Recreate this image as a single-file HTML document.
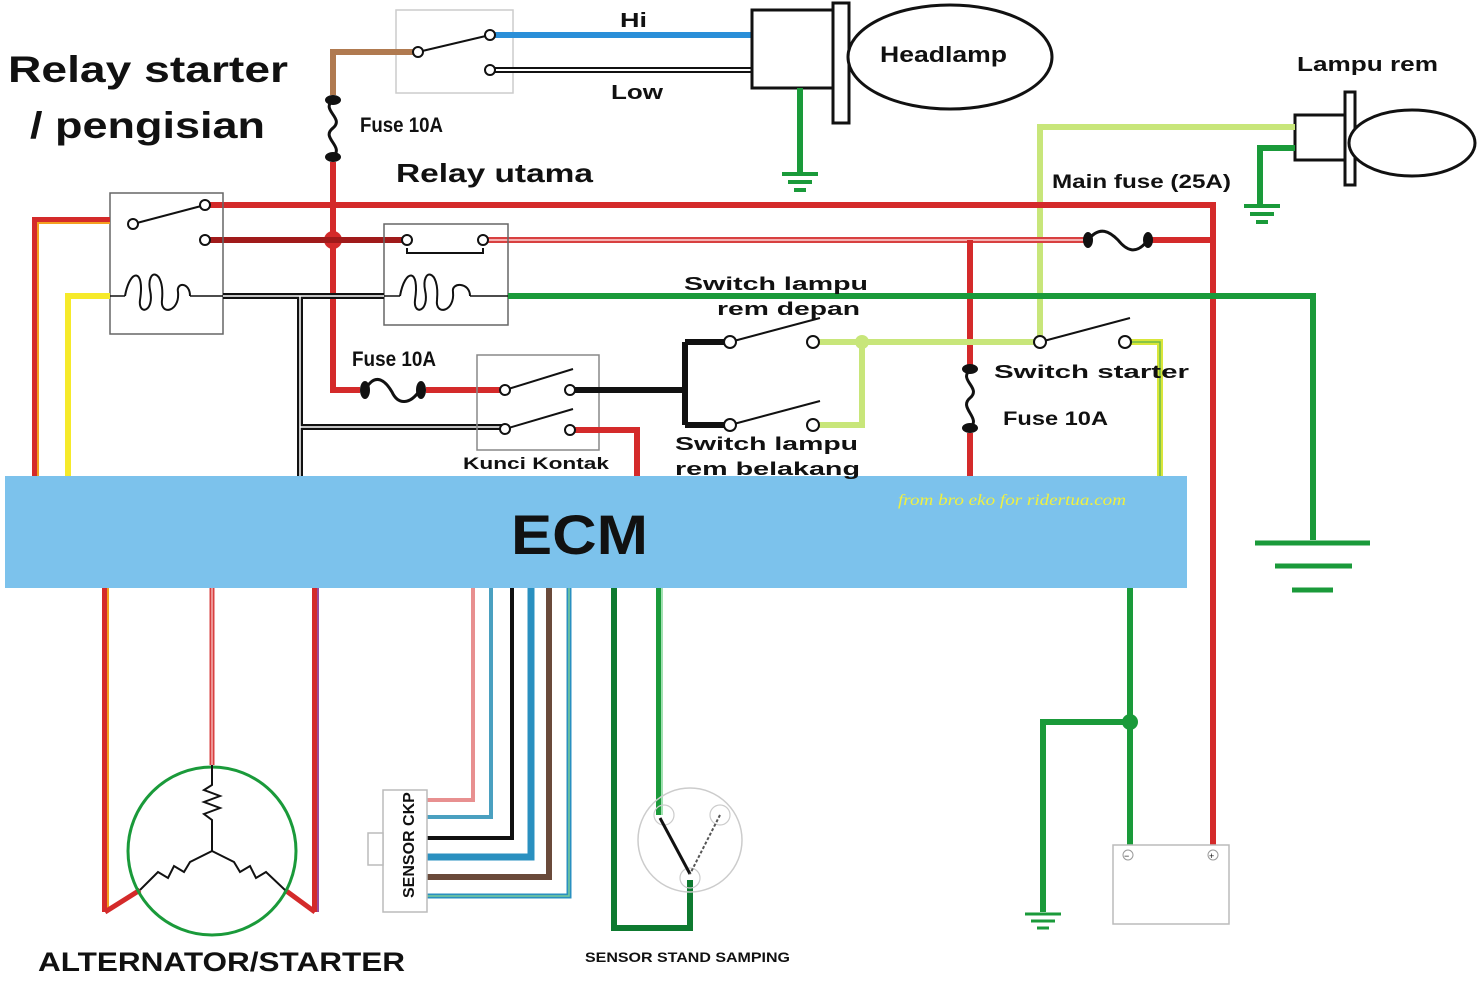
<!DOCTYPE html>
<html><head><meta charset="utf-8"><style>
html,body{margin:0;padding:0;background:#fff}
svg{display:block}
text{font-family:"Liberation Sans",sans-serif;font-weight:bold;fill:#111}
</style></head><body>
<svg width="1478" height="1006" viewBox="0 0 1478 1006" xmlns="http://www.w3.org/2000/svg">
<g fill="none" stroke-linecap="butt" stroke-linejoin="miter">
<rect x="396" y="10" width="117" height="83" stroke="#ccc" stroke-width="1.5"/>
<path d="M418 52 H333 V95" stroke="#b07a50" stroke-width="6"/>
<line x1="418" y1="52" x2="490" y2="35" stroke="#111" stroke-width="2"/>
<path d="M490 35 H752" stroke="#2a8fd8" stroke-width="6"/>
<path d="M490 70 H752" stroke="#111" stroke-width="6"/>
<path d="M490 70 H752" stroke="#fff" stroke-width="2"/>
<rect x="752" y="10" width="88" height="78" stroke="#111" stroke-width="3" fill="#fff"/>
<rect x="833" y="3" width="16" height="120" stroke="#111" stroke-width="3" fill="#fff"/>
<ellipse cx="950" cy="57" rx="102" ry="52" stroke="#111" stroke-width="3" fill="#fff"/>
<path d="M800 88 V172" stroke="#1a9a3a" stroke-width="6"/>
<path d="M782 174 H818 M788 182 H812 M794 190 H806" stroke="#1a9a3a" stroke-width="4"/>
<rect x="1295" y="115" width="55" height="45" stroke="#111" stroke-width="3" fill="#fff"/>
<rect x="1345" y="92" width="10" height="93" stroke="#111" stroke-width="3" fill="#fff"/>
<ellipse cx="1412" cy="143" rx="63" ry="33" stroke="#111" stroke-width="3" fill="#fff"/>
<path d="M1295 127 H1040 V342" stroke="#c8e67a" stroke-width="6"/>
<path d="M1295 148 H1260 V205" stroke="#1a9a3a" stroke-width="6"/>
<path d="M1244 206 H1280 M1250 214 H1274 M1256 222 H1268" stroke="#1a9a3a" stroke-width="4"/>
<path d="M333 100 C320 110 345 118 333 128 C320 138 345 146 333 157" stroke="#111" stroke-width="3"/>
<ellipse cx="333" cy="100" rx="8" ry="5" fill="#111"/>
<ellipse cx="333" cy="157" rx="8" ry="5" fill="#111"/>
<path d="M333 162 V390 H360" stroke="#d42a2a" stroke-width="6"/>
<circle cx="333" cy="240" r="9" fill="#d42a2a"/>
<path d="M205 205 H1213 V845" stroke="#d42a2a" stroke-width="6"/>
<path d="M205 240 H407" stroke="#a01a1a" stroke-width="6"/>
<path d="M483 240 H1085" stroke="#d84040" stroke-width="6"/>
<path d="M483 240 H1085" stroke="#f4b0b0" stroke-width="2"/>
<path d="M1150 240 H1213" stroke="#d42a2a" stroke-width="6"/>
<path d="M1088 240 C1100 225 1110 232 1118 240 C1126 250 1136 256 1148 240" stroke="#111" stroke-width="3"/>
<ellipse cx="1088" cy="240" rx="5" ry="8" fill="#111"/>
<ellipse cx="1148" cy="240" rx="5" ry="8" fill="#111"/>
<path d="M970 240 V365" stroke="#d42a2a" stroke-width="6"/>
<path d="M970 370 C958 380 982 388 970 398 C958 408 982 418 970 428" stroke="#111" stroke-width="3"/>
<ellipse cx="970" cy="369" rx="8" ry="5" fill="#111"/>
<ellipse cx="970" cy="428" rx="8" ry="5" fill="#111"/>
<path d="M970 433 V476" stroke="#d42a2a" stroke-width="6"/>
<rect x="110" y="193" width="113" height="141" stroke="#666" stroke-width="1.5" fill="none"/>
<path d="M35 476 V220 H110" stroke="#d42a2a" stroke-width="6"/>
<path d="M38 476 V223 H110" stroke="#f4a020" stroke-width="2"/>
<path d="M68 476 V296 H110" stroke="#f6ea2a" stroke-width="6"/>
<line x1="133" y1="224" x2="205" y2="205" stroke="#111" stroke-width="2"/>
<path d="M110 296 H125 M190 296 H223" stroke="#111" stroke-width="1.5"/>
<path d="M125 296 C130 268 145 268 140 300 C138 316 155 312 150 290 C146 268 165 268 162 300 C160 316 180 312 178 292 C176 282 190 282 190 296" stroke="#111" stroke-width="2"/>
<rect x="384" y="224" width="124" height="101" stroke="#666" stroke-width="1.5"/>
<path d="M407 248 V253 H483 V248" stroke="#111" stroke-width="2"/>
<path d="M384 296 H400 M470 296 H508" stroke="#111" stroke-width="1.5"/>
<path d="M400 296 C405 268 420 268 415 300 C413 316 430 312 425 290 C421 268 440 268 437 300 C435 316 455 312 453 292 C451 282 470 282 470 296" stroke="#111" stroke-width="2"/>
<path d="M508 296 H1313 V540" stroke="#1a9a3a" stroke-width="6"/>
<path d="M1255 543 H1370 M1275 566 H1352 M1292 590 H1333" stroke="#1a9a3a" stroke-width="5"/>
<path d="M223 296 H384 M300 296 V476 M300 427 H505" stroke="#111" stroke-width="6"/>
<path d="M223 296 H384 M300 296 V476 M300 427 H505" stroke="#fff" stroke-width="1.5"/>
<path d="M365 390 C375 372 385 380 392 392 C398 405 410 405 420 390" stroke="#111" stroke-width="3"/>
<ellipse cx="365" cy="390" rx="5" ry="9" fill="#111"/>
<ellipse cx="421" cy="390" rx="5" ry="9" fill="#111"/>
<path d="M426 390 H505" stroke="#d42a2a" stroke-width="6"/>
<rect x="477" y="355" width="122" height="95" stroke="#888" stroke-width="1.5"/>
<line x1="505" y1="390" x2="573" y2="369" stroke="#111" stroke-width="2"/>
<line x1="505" y1="429" x2="573" y2="409" stroke="#111" stroke-width="2"/>
<path d="M570 390 H685 M685 342 V425 M685 342 H730 M685 425 H730" stroke="#111" stroke-width="6"/>
<path d="M570 430 H637 V476" stroke="#d42a2a" stroke-width="6"/>
<line x1="730" y1="342" x2="820" y2="318" stroke="#111" stroke-width="2"/>
<line x1="730" y1="425" x2="820" y2="401" stroke="#111" stroke-width="2"/>
<path d="M813 342 H1040 M862 342 V425 H813" stroke="#c8e67a" stroke-width="6"/>
<circle cx="862" cy="342" r="7" fill="#c8e67a"/>
<line x1="1040" y1="342" x2="1130" y2="318" stroke="#111" stroke-width="2"/>
<path d="M1125 342 H1160 V476" stroke="#d8e63a" stroke-width="6"/>
<path d="M1125 342 H1160 V476" stroke="#6cb84a" stroke-width="1.5"/>
<g fill="#fff" stroke="#111" stroke-width="2">
<circle cx="418" cy="52" r="5"/><circle cx="490" cy="35" r="5"/><circle cx="490" cy="70" r="5"/>
<circle cx="133" cy="224" r="5"/><circle cx="205" cy="205" r="5"/><circle cx="205" cy="240" r="5"/>
<circle cx="407" cy="240" r="5"/><circle cx="483" cy="240" r="5"/>
<circle cx="505" cy="390" r="5"/><circle cx="570" cy="390" r="5"/><circle cx="505" cy="429" r="5"/><circle cx="570" cy="430" r="5"/>
<circle cx="730" cy="342" r="6"/><circle cx="813" cy="342" r="6"/><circle cx="730" cy="425" r="6"/><circle cx="813" cy="425" r="6"/>
<circle cx="1040" cy="342" r="6"/><circle cx="1125" cy="342" r="6"/>
</g>
<path d="M105 588 V912" stroke="#d42a2a" stroke-width="6"/>
<path d="M108 588 V912" stroke="#f4a020" stroke-width="2"/>
<path d="M212 588 V765" stroke="#d84040" stroke-width="5"/>
<path d="M212 588 V765" stroke="#f4b0b0" stroke-width="1.5"/>
<path d="M315 588 V912" stroke="#d42a2a" stroke-width="6"/>
<path d="M318 588 V912" stroke="#9a4a9a" stroke-width="2"/>
<path d="M105 912 L140 890 M315 912 L285 890" stroke="#d42a2a" stroke-width="5"/>
<circle cx="212" cy="851" r="84" stroke="#1a9a3a" stroke-width="3"/>
<path d="M212 765 V785 L204 790 L220 796 L204 802 L220 808 L204 814 L212 820 V851 L190 862 L184 872 L174 866 L168 878 L158 872 L140 890 M212 851 L234 862 L240 872 L250 866 L256 878 L266 872 L285 890" stroke="#111" stroke-width="2"/>
<path d="M473 588 V800 H427" stroke="#e89090" stroke-width="4"/>
<path d="M491 588 V817 H427" stroke="#4aa0c0" stroke-width="4"/>
<path d="M512 588 V838 H427" stroke="#111" stroke-width="4"/>
<path d="M531 588 V857 H427" stroke="#2a90c0" stroke-width="7"/>
<path d="M549 588 V877 H427" stroke="#6a4a3a" stroke-width="6"/>
<path d="M569 588 V896 H427" stroke="#2a90c0" stroke-width="5"/>
<path d="M569 588 V896 H427" stroke="#7acc9a" stroke-width="1.5"/>
<rect x="383" y="790" width="44" height="122" fill="#fff" stroke="#bbb" stroke-width="1.5"/>
<rect x="368" y="833" width="15" height="32" fill="#fff" stroke="#bbb" stroke-width="1.5"/>
<path d="M614 588 V928 H690 V880" stroke="#0e7a30" stroke-width="6"/>
<path d="M659 588 V815" stroke="#1a9a3a" stroke-width="6"/>
<path d="M662 588 V815" stroke="#a0e0b0" stroke-width="2"/>
<circle cx="690" cy="840" r="52" stroke="#ccc" stroke-width="1.5"/>
<circle cx="664" cy="815" r="10" stroke="#ccc" stroke-width="1.2"/>
<circle cx="720" cy="815" r="10" stroke="#ccc" stroke-width="1.2"/>
<circle cx="690" cy="878" r="10" stroke="#ccc" stroke-width="1.2"/>
<line x1="660" y1="818" x2="690" y2="874" stroke="#111" stroke-width="3"/>
<line x1="720" y1="815" x2="690" y2="874" stroke="#555" stroke-width="2" stroke-dasharray="3 2"/>
<path d="M1130 588 V845 M1130 722 H1043 V912" stroke="#1a9a3a" stroke-width="6"/>
<circle cx="1130" cy="722" r="8" fill="#1a9a3a"/>
<path d="M1025 914 H1061 M1031 921 H1055 M1037 928 H1049" stroke="#1a9a3a" stroke-width="3"/>
<rect x="1113" y="845" width="116" height="79" stroke="#bbb" stroke-width="1.5" fill="#fff"/>
<circle cx="1128" cy="855" r="5" stroke="#999" stroke-width="1" fill="#fff"/>
<circle cx="1213" cy="855" r="5" stroke="#999" stroke-width="1" fill="#fff"/>
</g>
<rect x="5" y="476" width="1182" height="112" fill="#7cc2ec"/>
<g lengthAdjust="spacingAndGlyphs">
<text x="511" y="554" font-size="56" textLength="137" lengthAdjust="spacingAndGlyphs">ECM</text>
<text x="898" y="505" font-size="16" textLength="228" lengthAdjust="spacingAndGlyphs" style="font-family:'Liberation Serif',serif;font-style:italic;font-weight:normal;fill:#f0f040">from bro eko for ridertua.com</text>
<text x="8" y="82" font-size="37" textLength="280" lengthAdjust="spacingAndGlyphs">Relay starter</text>
<text x="30" y="138" font-size="37" textLength="235" lengthAdjust="spacingAndGlyphs">/ pengisian</text>
<text x="620" y="27" font-size="20" textLength="27" lengthAdjust="spacingAndGlyphs">Hi</text>
<text x="611" y="99" font-size="20" textLength="52" lengthAdjust="spacingAndGlyphs">Low</text>
<text x="880" y="62" font-size="22" textLength="127" lengthAdjust="spacingAndGlyphs">Headlamp</text>
<text x="1297" y="71" font-size="20" textLength="141" lengthAdjust="spacingAndGlyphs">Lampu rem</text>
<text x="1052" y="188" font-size="19" textLength="179" lengthAdjust="spacingAndGlyphs">Main fuse (25A)</text>
<text x="396" y="182" font-size="26" textLength="197" lengthAdjust="spacingAndGlyphs">Relay utama</text>
<text x="360" y="132" font-size="21" textLength="83" lengthAdjust="spacingAndGlyphs">Fuse 10A</text>
<text x="352" y="366" font-size="21" textLength="84" lengthAdjust="spacingAndGlyphs">Fuse 10A</text>
<text x="684" y="290" font-size="18" textLength="184" lengthAdjust="spacingAndGlyphs">Switch lampu</text>
<text x="717" y="315" font-size="18" textLength="143" lengthAdjust="spacingAndGlyphs">rem depan</text>
<text x="994" y="378" font-size="18" textLength="195" lengthAdjust="spacingAndGlyphs">Switch starter</text>
<text x="1003" y="425" font-size="19" textLength="105" lengthAdjust="spacingAndGlyphs">Fuse 10A</text>
<text x="463" y="469" font-size="17" textLength="146" lengthAdjust="spacingAndGlyphs">Kunci Kontak</text>
<text x="675" y="450" font-size="18" textLength="183" lengthAdjust="spacingAndGlyphs">Switch lampu</text>
<text x="675" y="475" font-size="18" textLength="185" lengthAdjust="spacingAndGlyphs">rem belakang</text>
<text x="38" y="971" font-size="27" textLength="367" lengthAdjust="spacingAndGlyphs">ALTERNATOR/STARTER</text>
<text x="585" y="962" font-size="14" textLength="205" lengthAdjust="spacingAndGlyphs">SENSOR STAND SAMPING</text>
</g>
<text x="0" y="0" font-size="16" transform="translate(414,898) rotate(-90)">SENSOR CKP</text>
<text x="1124" y="859" font-size="9" style="font-weight:normal">−</text>
<text x="1209" y="859" font-size="9" style="font-weight:normal">+</text>
</svg>
</body></html>
